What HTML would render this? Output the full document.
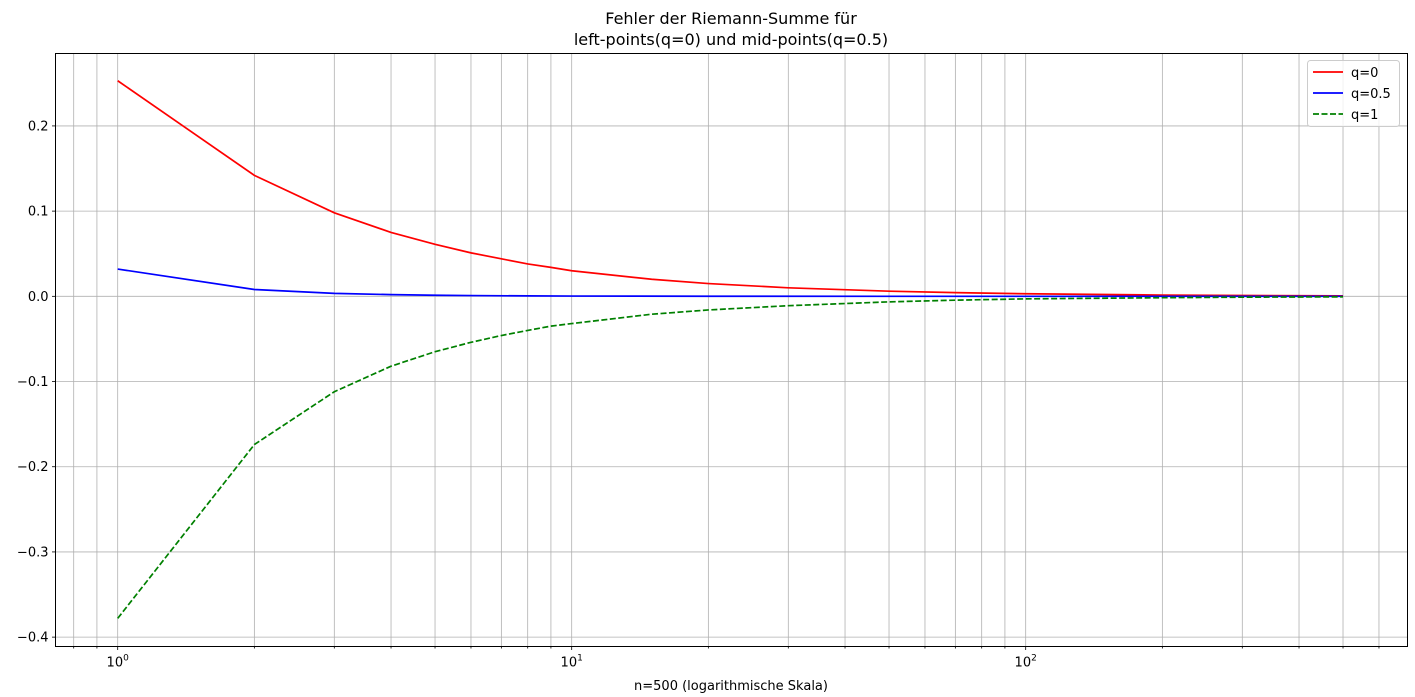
<!DOCTYPE html>
<html><head><meta charset="utf-8"><style>
html,body{margin:0;padding:0;background:#fff;}
svg{display:block;font-family:"DejaVu Sans","Liberation Sans",sans-serif;}
</style></head><body>
<svg id="chart" width="1415" height="697" viewBox="0 0 1415 697" xmlns="http://www.w3.org/2000/svg">
<rect width="1415" height="697" fill="#fff"/>
<text x="731" y="24" font-size="16" text-anchor="middle">Fehler der Riemann-Summe für</text>
<text x="731" y="45" font-size="16" text-anchor="middle">left-points(q=0) und mid-points(q=0.5)</text>
<g id="grid"></g>
<g id="series"></g>
<rect x="55.5" y="53.5" width="1352" height="593" fill="none" stroke="#000" stroke-width="1"/>
<g id="axes"></g>
<text x="731" y="690" font-size="13" text-anchor="middle">n=500 (logarithmische Skala)</text>
<g>
<rect x="1307.5" y="60.5" width="92" height="66" rx="3" fill="#fff" fill-opacity="0.8" stroke="#ccc"/>
<line x1="1313" y1="72" x2="1343" y2="72" stroke="red" stroke-width="1.7"/>
<text x="1351" y="77" font-size="13">q=0</text>
<line x1="1313" y1="93" x2="1343" y2="93" stroke="blue" stroke-width="1.7"/>
<text x="1351" y="98" font-size="13">q=0.5</text>
<line x1="1313" y1="114" x2="1343" y2="114" stroke="green" stroke-width="1.7" stroke-dasharray="6,2.5"/>
<text x="1351" y="119" font-size="13">q=1</text>
</g>
</svg>
<script>
const nQ0 = [1,2,3,4,5,6,7,8,9,10,15,20,30,50,70,100,200,300,500];
const errQ0 = [0.253,0.142,0.098,0.075,0.061,0.051,0.044,0.038,0.034,0.030,0.020,0.015,0.010,0.006,0.0043,0.003,0.0015,0.001,0.0006];
const nQ05 = [1,2,3,4,5,6,8,10,20,50,500];
const errQ05 = [0.032,0.008,0.0035,0.002,0.0013,0.0009,0.0005,0.0003,0.0001,0,0];
const nQ1 = [1,2,3,4,5,6,7,8,9,10,15,20,30,50,70,100,200,300,500];
const errQ1 = [-0.378,-0.174,-0.112,-0.082,-0.065,-0.054,-0.046,-0.040,-0.035,-0.032,-0.021,-0.016,-0.011,-0.0065,-0.0045,-0.003,-0.0016,-0.001,-0.0006];
const yTicks = [-0.4,-0.3,-0.2,-0.1,0.0,0.1,0.2];
const xMajor = [0,1,2];

const NS="http://www.w3.org/2000/svg";
const L=55.5,R=1407.5,T=53.5,B=646.5;
const xmin=-0.137,xmax=2.841,ymin=-0.411,ymax=0.285;
const X=v=>L+(Math.log10(v)-xmin)/(xmax-xmin)*(R-L);
const Y=v=>B-(v-ymin)/(ymax-ymin)*(B-T);
function mk(tag,attrs,parent){const e=document.createElementNS(NS,tag);for(const k in attrs)e.setAttribute(k,attrs[k]);parent.appendChild(e);return e;}
const grid=document.getElementById('grid'),axes=document.getElementById('axes'),series=document.getElementById('series');
// vertical grid: majors & minors
for(let d=-1;d<=2;d++){for(let m=1;m<=9;m++){const v=m*Math.pow(10,d);const x=X(v);if(x<L||x>R)continue;
 const g=mk('line',{x1:x,y1:T,x2:x,y2:B,stroke:'#b0b0b0','stroke-width':0.8},grid);
 
 
 const t=mk('line',{x1:x,y1:B,x2:x,y2:B+(m===1?3.5:2),stroke:'#000','stroke-width':0.8},axes);
 
 
}}
xMajor.forEach(p=>{const x=X(Math.pow(10,p));
 const tx=mk('text',{x:x,y:B+20,'font-size':13,'text-anchor':'middle'},axes);
 
 
 tx.appendChild(document.createTextNode('10'));
 const s=mk('tspan',{'font-size':9,dy:-6},tx);s.textContent=String(p);
});
yTicks.forEach(v=>{const y=Y(v);
 const g=mk('line',{x1:L,y1:y,x2:R,y2:y,stroke:'#b0b0b0','stroke-width':0.8},grid);
 
 
 const t=mk('line',{x1:L-3.5,y1:y,x2:L,y2:y,stroke:'#000','stroke-width':0.8},axes);
 
 
 const tx=mk('text',{x:L-7,y:y+4.5,'font-size':13,'text-anchor':'end'},axes);
 
 
 tx.textContent=(v<0?'\u2212':'')+Math.abs(v).toFixed(1);
});
function line(ns,vs,color,dash,name){
 const d=ns.map((n,i)=>(i?'L':'M')+X(n).toFixed(2)+','+Y(vs[i]).toFixed(2)).join('');
 const p=mk('path',{d:d,fill:'none',stroke:color,'stroke-width':1.7},series);
 if(dash)p.setAttribute('stroke-dasharray',dash);
 
 
}
line(nQ0,errQ0,'red',null,'line-q0');
line(nQ05,errQ05,'blue',null,'line-q05');
line(nQ1,errQ1,'green','6,2.5','line-q1');
</script>
</body></html>
